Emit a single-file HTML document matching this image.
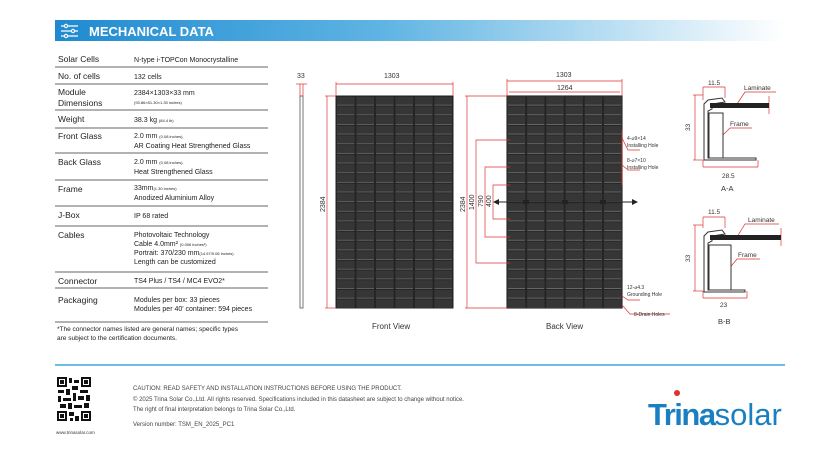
<!DOCTYPE html>
<html><head><meta charset="utf-8"><style>
body{margin:0;background:#fff;width:839px;height:454px;overflow:hidden;font-family:"Liberation Sans",sans-serif}
svg text{font-family:"Liberation Sans",sans-serif}
</style></head><body>
<svg width="839" height="454" viewBox="0 0 839 454" xmlns="http://www.w3.org/2000/svg">
<defs>
<linearGradient id="hb" x1="0" x2="1"><stop offset="0" stop-color="#1f8ad0"/><stop offset="0.45" stop-color="#5fb4e3"/><stop offset="1" stop-color="#ffffff"/></linearGradient>
<pattern id="cells" x="336" y="96" width="19.5" height="9.65" patternUnits="userSpaceOnUse">
<rect width="19.5" height="9.65" fill="#222"/><rect x="0.8" y="0.8" width="17.9" height="8" fill="#363636"/><line x1="1" y1="9.2" x2="18.5" y2="9.2" stroke="#999" stroke-width="0.5"/></pattern>
<pattern id="cellsb" x="507" y="96" width="19.2" height="9.65" patternUnits="userSpaceOnUse">
<rect width="19.2" height="9.65" fill="#222"/><rect x="0.8" y="0.8" width="17.6" height="8" fill="#363636"/><line x1="1" y1="9.2" x2="18.2" y2="9.2" stroke="#aaa" stroke-width="0.5"/></pattern>
</defs>
<rect x="55" y="20" width="730" height="21" fill="url(#hb)"/>
<g stroke="#fff" stroke-width="1.2" fill="none"><line x1="61" y1="26" x2="78" y2="26"/><line x1="61" y1="31" x2="78" y2="31"/><line x1="61" y1="36" x2="78" y2="36"/><circle cx="66" cy="26" r="1.6" fill="#1f8ad0"/><circle cx="73" cy="31" r="1.6" fill="#1f8ad0"/><circle cx="66" cy="36" r="1.6" fill="#1f8ad0"/></g>
<text x="89" y="36" fill="#fff" font-size="13" font-weight="bold">MECHANICAL DATA</text>
<g font-size="8.5" fill="#222">
<text x="58" y="62">Solar Cells</text><text x="134" y="62" font-size="7">N-type i-TOPCon Monocrystalline</text>
<text x="58" y="79">No. of cells</text><text x="134" y="79" font-size="7">132 cells</text>
<text x="58" y="95">Module</text><text x="58" y="106">Dimensions</text><text x="134" y="95" font-size="7">2384×1303×33 mm</text><text x="134" y="104" font-size="4">(93.86×51.30×1.30 inches)</text>
<text x="58" y="122">Weight</text><text x="134" y="122" font-size="7">38.3 kg <tspan font-size="4">(84.4 lb)</tspan></text>
<text x="58" y="139">Front Glass</text><text x="134" y="138" font-size="7">2.0 mm <tspan font-size="4">(0.08 inches),</tspan></text><text x="134" y="148" font-size="7">AR Coating Heat Strengthened Glass</text>
<text x="58" y="165">Back Glass</text><text x="134" y="164" font-size="7">2.0 mm <tspan font-size="4">(0.08 inches),</tspan></text><text x="134" y="174" font-size="7">Heat Strengthened Glass</text>
<text x="58" y="192">Frame</text><text x="134" y="190" font-size="7">33mm<tspan font-size="4">(1.30 inches)</tspan></text><text x="134" y="200" font-size="7">Anodized  Aluminium Alloy</text>
<text x="58" y="218">J-Box</text><text x="134" y="218" font-size="7">IP 68 rated</text>
<text x="58" y="238">Cables</text><text x="134" y="237" font-size="7">Photovoltaic Technology</text><text x="134" y="246" font-size="7">Cable 4.0mm² <tspan font-size="4">(0.006 inches²)</tspan></text><text x="134" y="255" font-size="7">Portrait: 370/230 mm<tspan font-size="4">(14.57/9.06 inches)</tspan></text><text x="134" y="264" font-size="7">Length can be customized</text>
<text x="58" y="284">Connector</text><text x="134" y="283" font-size="7">TS4 Plus / TS4 / MC4 EVO2*</text>
<text x="58" y="303">Packaging</text><text x="134" y="302" font-size="7">Modules per box: 33 pieces</text><text x="134" y="311" font-size="7">Modules per 40' container: 594 pieces</text>
<text x="57" y="331" font-size="6.5">*The connector names listed are general names; specific types</text>
<text x="57" y="340" font-size="6.5">are subject to the certification documents.</text>
</g>
<g stroke="#333" stroke-width="0.8">
<line x1="55" y1="67" x2="268" y2="67"/><line x1="55" y1="84" x2="268" y2="84"/><line x1="55" y1="110" x2="268" y2="110"/><line x1="55" y1="128" x2="268" y2="128"/><line x1="55" y1="153" x2="268" y2="153"/><line x1="55" y1="180" x2="268" y2="180"/><line x1="55" y1="206" x2="268" y2="206"/><line x1="55" y1="226" x2="268" y2="226"/><line x1="55" y1="272" x2="268" y2="272"/><line x1="55" y1="288" x2="268" y2="288"/><line x1="55" y1="322" x2="268" y2="322"/>
</g>
<rect x="300" y="96" width="3" height="212" fill="#fff" stroke="#555" stroke-width="0.8"/>
<g stroke="#d33" stroke-width="0.7" fill="none"><line x1="296" y1="84" x2="307" y2="84"/><line x1="300" y1="84" x2="300" y2="96"/><line x1="303" y1="84" x2="303" y2="96"/></g>
<text x="297" y="78" font-size="7" fill="#333">33</text>
<rect x="336" y="96" width="117" height="212" fill="url(#cells)" stroke="#222"/>
<g stroke="#d33" stroke-width="0.7" fill="none">
<line x1="336" y1="84" x2="453" y2="84"/><line x1="336" y1="82" x2="336" y2="96"/><line x1="453" y1="82" x2="453" y2="96"/>
<line x1="327" y1="96" x2="327" y2="308"/><line x1="325" y1="96" x2="336" y2="96"/><line x1="325" y1="308" x2="336" y2="308"/>
</g>
<text x="384" y="78" font-size="7" fill="#333">1303</text>
<text transform="translate(325,212) rotate(-90)" font-size="7" fill="#333">2384</text>
<text x="372" y="329" font-size="8" fill="#333">Front View</text>
<rect x="507" y="96" width="115" height="212" fill="url(#cellsb)" stroke="#333" stroke-width="1.2"/>
<g stroke="#d33" stroke-width="0.7" fill="none">
<line x1="507" y1="81" x2="622" y2="81"/><line x1="507" y1="79" x2="507" y2="96"/><line x1="622" y1="79" x2="622" y2="96"/>
<line x1="509" y1="92" x2="620" y2="92"/>
<line x1="465" y1="96" x2="507" y2="96"/><line x1="465" y1="308" x2="507" y2="308"/><line x1="467" y1="96" x2="467" y2="308"/>
<polyline points="510,140 476,140 476,263 510,263"/>
<polyline points="510,167 485,167 485,237 510,237"/>
<polyline points="510,185 493,185 493,219 510,219"/>
<line x1="622" y1="130" x2="622" y2="185"/>
<polyline points="622,138 628,150 640,150"/><polyline points="622,165 628,170 640,170"/>
<polyline points="622,296 628,300 640,300"/><polyline points="622,305 630,314 670,314"/>
</g>
<g stroke="#222" stroke-width="1"><line x1="495" y1="202" x2="636" y2="202"/></g>
<g fill="#222"><polygon points="493,202 499,199 499,205"/><polygon points="638,202 632,199 632,205"/><rect x="523" y="200" width="6" height="4"/><rect x="562" y="200" width="6" height="4"/><rect x="600" y="200" width="6" height="4"/></g>
<text x="556" y="77" font-size="7" fill="#333">1303</text>
<text x="557" y="90" font-size="7" fill="#333">1264</text>
<g font-size="7" fill="#333">
<text transform="translate(465,212) rotate(-90)">2384</text>
<text transform="translate(474,210) rotate(-90)">1400</text>
<text transform="translate(483,207) rotate(-90)">790</text>
<text transform="translate(491,207) rotate(-90)">400</text>
</g>
<g font-size="5" fill="#333">
<text x="607" y="121" font-size="6">A—A</text>
<text x="627" y="140">4-⌀9×14</text><text x="627" y="147">Installing Hole</text>
<text x="627" y="162">8-⌀7×10</text><text x="627" y="169">Installing Hole</text>
<text x="627" y="289">12-⌀4.3</text><text x="627" y="296">Grounding Hole</text>
<text x="634" y="316">8-Drain Holes</text>
</g>
<text x="546" y="329" font-size="8" fill="#333">Back View</text>
<g stroke="#d33" stroke-width="0.7" fill="none">
<line x1="703" y1="87" x2="725" y2="87"/><line x1="703" y1="87" x2="703" y2="100"/><line x1="725" y1="87" x2="725" y2="98"/>
<line x1="693" y1="95" x2="703" y2="95"/><line x1="693" y1="160" x2="703" y2="160"/><line x1="695" y1="95" x2="695" y2="160"/>
<line x1="703" y1="167" x2="758" y2="167"/><line x1="703" y1="160" x2="703" y2="167"/><line x1="758" y1="160" x2="758" y2="167"/>
<polyline points="737,104 745,92 776,92"/><polyline points="722,136 730,128 752,128"/>
<line x1="769" y1="96" x2="769" y2="114"/>
</g>
<g stroke="#333" stroke-width="1" fill="#fff">
<path d="M704,158 L704,104 L708,100 L722,98 L725,102 L712,104 L712,109 L708,111 L708,158 L756,158 L756,160 L704,160 Z"/>
<rect x="709" y="113" width="14" height="45"/>
</g>
<rect x="710" y="103" width="59" height="5" fill="#222"/>
<g font-size="6.5" fill="#333"><text x="708" y="85">11.5</text><text x="744" y="90">Laminate</text><text x="730" y="126">Frame</text><text transform="translate(690,131) rotate(-90)">33</text><text x="722" y="178">28.5</text><text x="721" y="191" font-size="7.5">A-A</text></g>
<g stroke="#d33" stroke-width="0.7" fill="none">
<line x1="703" y1="217" x2="725" y2="217"/><line x1="703" y1="217" x2="703" y2="228"/><line x1="725" y1="217" x2="725" y2="228"/>
<line x1="693" y1="225" x2="703" y2="225"/><line x1="693" y1="291" x2="703" y2="291"/><line x1="695" y1="225" x2="695" y2="291"/>
<line x1="703" y1="298" x2="747" y2="298"/><line x1="703" y1="291" x2="703" y2="298"/><line x1="747" y1="291" x2="747" y2="298"/>
<polyline points="737,237 745,224 779,224"/><polyline points="728,270 737,259 760,259"/>
<line x1="781" y1="228" x2="781" y2="246"/>
</g>
<g stroke="#333" stroke-width="1" fill="#fff">
<path d="M704,290 L704,236 L708,232 L722,230 L725,234 L712,236 L712,241 L708,243 L708,290 L745,290 L745,292 L704,292 Z"/>
<rect x="709" y="245" width="22" height="45"/>
</g>
<rect x="710" y="235" width="71" height="5" fill="#222"/>
<g font-size="6.5" fill="#333"><text x="708" y="214">11.5</text><text x="748" y="222">Laminate</text><text x="738" y="257">Frame</text><text transform="translate(690,262) rotate(-90)">33</text><text x="720" y="307">23</text><text x="718" y="324" font-size="7.5">B-B</text></g>
<line x1="55" y1="365" x2="785" y2="365" stroke="#6cbde6" stroke-width="2"/>
<g fill="#111">
<rect x="57" y="377" width="34" height="44" fill="#fff"/>
<rect x="57" y="377" width="10" height="10"/><rect x="81" y="377" width="10" height="10"/><rect x="57" y="411" width="10" height="10"/><rect x="81" y="411" width="10" height="10"/>
<rect x="59" y="379" width="6" height="6" fill="#fff"/><rect x="83" y="379" width="6" height="6" fill="#fff"/><rect x="59" y="413" width="6" height="6" fill="#fff"/><rect x="83" y="413" width="6" height="6" fill="#fff"/>
<rect x="60" y="380" width="4" height="4"/><rect x="84" y="380" width="4" height="4"/><rect x="60" y="414" width="4" height="4"/><rect x="84" y="414" width="4" height="4"/>
<rect x="69" y="378" width="3" height="5"/><rect x="74" y="380" width="5" height="3"/><rect x="58" y="390" width="6" height="3"/><rect x="66" y="389" width="4" height="6"/><rect x="72" y="386" width="6" height="4"/><rect x="80" y="390" width="8" height="3"/>
<rect x="58" y="396" width="3" height="6"/><rect x="63" y="398" width="8" height="3"/><rect x="73" y="393" width="3" height="8"/><rect x="78" y="396" width="6" height="4"/><rect x="86" y="395" width="4" height="6"/>
<rect x="60" y="404" width="6" height="4"/><rect x="68" y="403" width="4" height="6"/><rect x="74" y="405" width="8" height="3"/><rect x="84" y="403" width="5" height="5"/><rect x="69" y="412" width="5" height="4"/><rect x="75" y="416" width="4" height="5"/><rect x="70" y="418" width="3" height="3"/>
</g>
<text x="56" y="434" font-size="4.5" fill="#333">www.trinasolar.com</text>
<g font-size="6" fill="#444">
<text x="133" y="390">CAUTION: READ SAFETY AND INSTALLATION INSTRUCTIONS BEFORE USING THE PRODUCT.</text>
<text x="133" y="401">© 2025 Trina Solar Co.,Ltd. All rights reserved. Specifications included in this datasheet are subject to change without notice.</text>
<text x="133" y="411">The right of final interpretation belongs to Trina Solar Co.,Ltd.</text>
<text x="133" y="426">Version number: TSM_EN_2025_PC1</text>
</g>
<circle cx="677" cy="393" r="3" fill="#e03030"/>
<text x="648" y="425" font-size="31" fill="#1a7fc0" font-weight="bold" letter-spacing="-1.5">Trina<tspan font-weight="normal" letter-spacing="0">solar</tspan></text>
</svg>
</body></html>
